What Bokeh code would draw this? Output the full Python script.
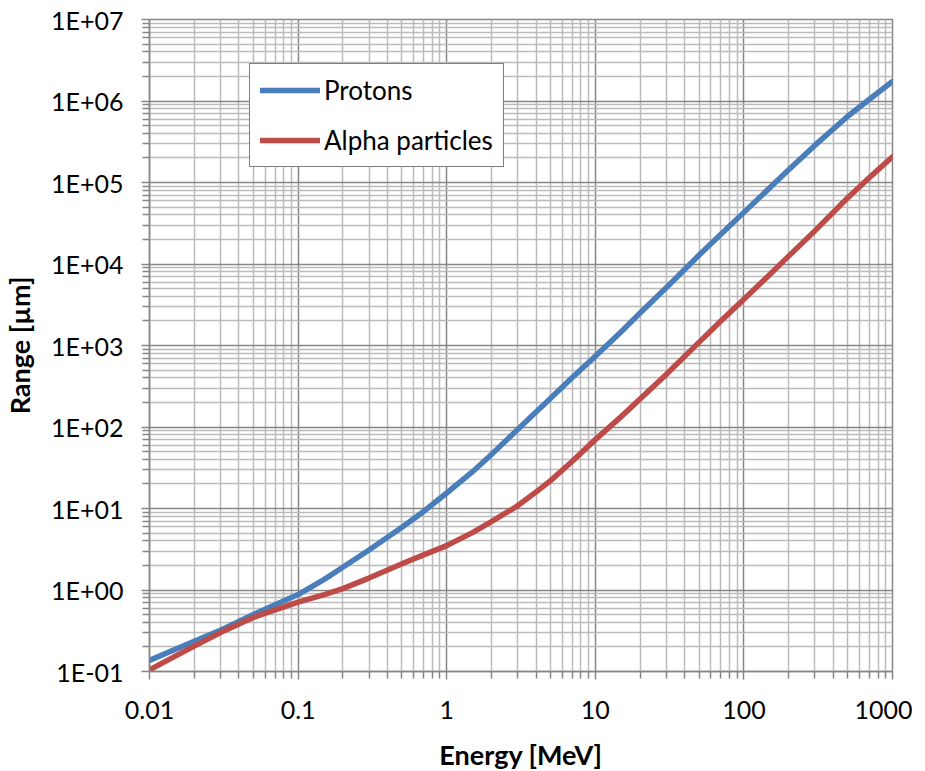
from bokeh.plotting import figure
from bokeh.models import FixedTicker, Legend, LegendItem, Range1d
from bokeh.embed import file_html
from bokeh.resources import INLINE

# ---- data (Energy in MeV, Range in µm) ----
energy_protons = [0.01, 0.02, 0.03, 0.05, 0.07, 0.1, 0.15, 0.2, 0.3, 0.5, 0.7, 1, 1.5, 2, 3, 5, 7, 10,
                  15, 20, 30, 50, 70, 100, 150, 200, 300, 500, 700, 1000]
range_protons = [0.137, 0.235, 0.32, 0.50, 0.66, 0.88, 1.35, 1.9, 3.1, 5.9, 9.2, 15.5, 28.5, 46, 93, 225, 405, 740,
                 1490, 2500, 5100, 12900, 23200, 43000, 87000, 143000, 285000, 650000, 1050000, 1740000]

energy_alpha = [0.01, 0.02, 0.03, 0.05, 0.07, 0.1, 0.15, 0.2, 0.3, 0.5, 0.7, 1, 1.5, 2, 3, 4, 5, 7, 10,
                15, 20, 30, 50, 70, 100, 150, 200, 300, 500, 700, 1000]
range_alpha = [0.105, 0.205, 0.30, 0.46, 0.57, 0.71, 0.88, 1.04, 1.4, 2.1, 2.7, 3.5, 5.1, 6.9, 10.8, 16, 22, 38, 70,
               135, 220, 440, 1100, 2000, 3700, 7500, 12500, 25500, 65000, 115000, 207000]

series_names = ["Protons", "Alpha particles"]
series_colors = ["#4A7EBB", "#BE4B48"]

x_tick_values = [0.01, 0.1, 1, 10, 100, 1000]
x_tick_labels = ["0.01", "0.1", "1", "10", "100", "1000"]
y_tick_values = [1e-1, 1e0, 1e1, 1e2, 1e3, 1e4, 1e5, 1e6, 1e7]
y_tick_labels = ["1E-01", "1E+00", "1E+01", "1E+02", "1E+03", "1E+04", "1E+05", "1E+06", "1E+07"]

x_title = "Energy [MeV]"
y_title = "Range [µm]"

FONT = "Lato"

p = figure(
    x_axis_type="log", y_axis_type="log",
    x_range=Range1d(0.01, 1000), y_range=Range1d(0.1, 1e7),
    frame_width=743, frame_height=652,
    min_border_left=145, min_border_top=19, min_border_right=20, min_border_bottom=84,
    output_backend="svg", toolbar_location=None,
    background_fill_color="white", border_fill_color="white",
)
p.outline_line_color = "#868686"
p.outline_line_width = 1.5

def minor_positions(lo_exp, hi_exp):
    out = []
    for e in range(lo_exp, hi_exp):
        for m in range(2, 10):
            out.append(m * 10.0 ** e)
    return out

p.xaxis.ticker = FixedTicker(ticks=x_tick_values, minor_ticks=minor_positions(-2, 3))
p.yaxis.ticker = FixedTicker(ticks=y_tick_values, minor_ticks=minor_positions(-1, 7))
p.xaxis.major_label_overrides = {v: s for v, s in zip(x_tick_values, x_tick_labels)}
p.yaxis.major_label_overrides = {v: s for v, s in zip(y_tick_values, y_tick_labels)}

for ax in (p.xaxis, p.yaxis):
    ax.axis_line_color = "#868686"
    ax.axis_line_width = 1.5
    ax.major_tick_line_color = "#868686"
    ax.minor_tick_line_color = "#868686"
    ax.major_tick_line_width = 1.5
    ax.minor_tick_line_width = 1.5
    ax.major_tick_in = 0
    ax.minor_tick_in = 0
    ax.major_tick_out = 8
    ax.minor_tick_out = 7
    ax.major_label_text_font = FONT
    ax.major_label_text_font_size = "25px"
    ax.major_label_text_color = "black"
    ax.axis_label_text_font = FONT
    ax.axis_label_text_font_size = "27px"
    ax.axis_label_text_font_style = "bold"
    ax.axis_label_text_color = "black"

p.xaxis.axis_label = x_title
p.yaxis.axis_label = y_title
p.xaxis.major_label_standoff = 21
p.yaxis.major_label_standoff = 18
p.xaxis.axis_label_standoff = 16
p.yaxis.axis_label_standoff = 12

for g in (p.xgrid, p.ygrid):
    g.grid_line_color = "#868686"
    g.grid_line_width = 1.5
    g.minor_grid_line_color = "#BBBBBB"
    g.minor_grid_line_width = 1.5

r1 = p.line(energy_protons, range_protons, line_color=series_colors[0], line_width=5.5, line_cap="round", line_join="round")
r2 = p.line(energy_alpha, range_alpha, line_color=series_colors[1], line_width=5.5, line_cap="round", line_join="round")

legend = Legend(
    items=[LegendItem(label=series_names[0], renderers=[r1]),
           LegendItem(label=series_names[1], renderers=[r2])],
    location=(100, 504),
    border_line_color="black", border_line_width=1.5,
    background_fill_color="white", background_fill_alpha=1.0,
    label_text_font=FONT, label_text_font_size="26px", label_text_color="black",
    glyph_width=60, glyph_height=28, label_height=28, label_standoff=4,
    spacing=18, padding=10, margin=0,
)
p.add_layout(legend, "center")

open("out.html", "w").write(file_html(p, INLINE))
